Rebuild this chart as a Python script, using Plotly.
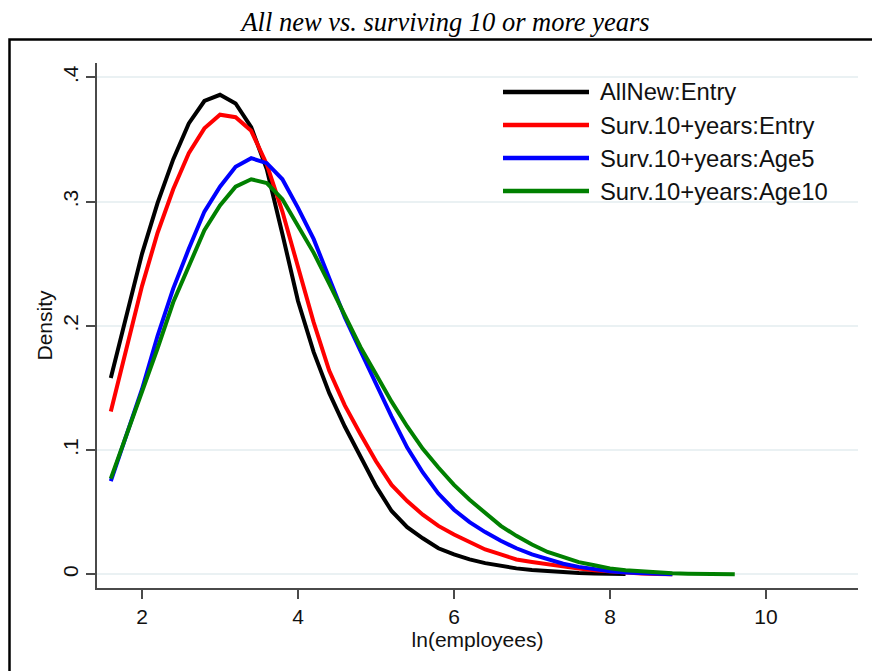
import plotly.graph_objects as go

# Kernel density estimates of ln(employees), evaluated on a common grid
x_grid = [1.6, 1.8, 2.0, 2.2, 2.4, 2.6, 2.8, 3.0, 3.2, 3.4, 3.6, 3.8, 4.0, 4.2,
          4.4, 4.6, 4.8, 5.0, 5.2, 5.4, 5.6, 5.8, 6.0, 6.2, 6.4, 6.6, 6.8, 7.0,
          7.2, 7.4, 7.6, 7.8, 8.0, 8.2, 8.4, 8.6, 8.8, 9.0, 9.2, 9.4, 9.6]

allnew_entry = [0.158, 0.209, 0.258, 0.299, 0.334, 0.363, 0.381, 0.386, 0.379,
                0.360, 0.326, 0.274, 0.220, 0.179, 0.146, 0.119, 0.095, 0.071,
                0.051, 0.038, 0.029, 0.021, 0.016, 0.012, 0.009, 0.0065,
                0.0048, 0.0035, 0.0025, 0.0017, 0.0011, 0.0007, 0.0004, 0.0002]

surv_entry = [0.131, 0.183, 0.232, 0.275, 0.310, 0.339, 0.359, 0.370, 0.368,
              0.357, 0.330, 0.292, 0.247, 0.203, 0.164, 0.136, 0.113, 0.091,
              0.072, 0.059, 0.048, 0.039, 0.032, 0.026, 0.020, 0.016, 0.012,
              0.010, 0.008, 0.0062, 0.0046, 0.0033, 0.0022, 0.0013, 0.0007,
              0.0003, 0.0001]

surv_age5 = [0.075, 0.112, 0.149, 0.192, 0.230, 0.262, 0.292, 0.312, 0.328,
             0.335, 0.331, 0.318, 0.295, 0.270, 0.239, 0.207, 0.180, 0.153,
             0.127, 0.102, 0.082, 0.065, 0.052, 0.042, 0.034, 0.027, 0.021,
             0.016, 0.012, 0.0085, 0.006, 0.004, 0.0025, 0.0014, 0.0007,
             0.0003, 0.0001]

surv_age10 = [0.077, 0.112, 0.145, 0.182, 0.219, 0.249, 0.277, 0.297, 0.312,
              0.318, 0.315, 0.302, 0.281, 0.259, 0.234, 0.208, 0.183, 0.161,
              0.139, 0.119, 0.101, 0.086, 0.072, 0.060, 0.049, 0.039, 0.031,
              0.024, 0.018, 0.0135, 0.0098, 0.0073, 0.0048, 0.0033, 0.0022,
              0.0014, 0.0008, 0.0005, 0.0003, 0.0001, 0.0]

series_names = ["AllNew:Entry", "Surv.10+years:Entry",
                "Surv.10+years:Age5", "Surv.10+years:Age10"]
series_values = [allnew_entry, surv_entry, surv_age5, surv_age10]
series_colors = ["#000000", "#ff0000", "#0000ff", "#008000"]

x_ticks = [2, 4, 6, 8, 10]
y_ticks = [0, 0.1, 0.2, 0.3, 0.4]
y_tick_labels = ["0", ".1", ".2", ".3", ".4"]

title_text = "All new vs. surviving 10 or more years"
x_title = "ln(employees)"
y_title = "Density"

# Figure geometry (pixels)
W, H = 872, 671
L, R, T, B = 97, 14, 63, 83
plot_w = W - L - R
plot_h = H - T - B


def px_x(px):
    return (px - L) / plot_w


def px_y(py):
    return (H - B - py) / plot_h


SANS = "Liberation Sans, Arial, sans-serif"
SERIF = "Liberation Serif, Times New Roman, serif"

fig = go.Figure()
for name, vals, color in zip(series_names, series_values, series_colors):
    fig.add_trace(go.Scatter(
        x=x_grid[:len(vals)], y=vals, mode="lines", name=name,
        line=dict(color=color, width=4), showlegend=False,
    ))

# Legend drawn as line samples with labels in the top-right corner
row_y = [92, 125, 158, 191]
for name, color, ry in zip(series_names, series_colors, row_y):
    fig.add_shape(type="line", xref="paper", yref="paper",
                  x0=px_x(503), x1=px_x(589), y0=px_y(ry), y1=px_y(ry),
                  line=dict(color=color, width=4.5))
    fig.add_annotation(xref="paper", yref="paper", x=px_x(598), y=px_y(ry),
                       text=name, showarrow=False, xanchor="left",
                       yanchor="middle",
                       font=dict(family=SANS, size=23.8, color="#111111"))

# Outer frame around the graph region
fig.add_shape(type="rect", xref="paper", yref="paper",
              x0=px_x(9.5), x1=px_x(W + 20), y0=px_y(H + 20), y1=px_y(39.5),
              line=dict(color="#000000", width=2.5), layer="above")

fig.update_layout(
    width=W, height=H,
    margin=dict(l=L, r=R, t=T, b=B),
    paper_bgcolor="#ffffff", plot_bgcolor="#ffffff",
    title=dict(text="<i>" + title_text + "</i>", x=445.5 / W, xanchor="center",
               xref="container", yref="container", y=1 - 22 / H,
               yanchor="middle",
               font=dict(family=SERIF, size=26.5, color="#000000")),
    showlegend=False,
)

fig.update_xaxes(
    range=[1.423, 11.18], tickvals=x_ticks, ticktext=[str(v) for v in x_ticks],
    showgrid=False, zeroline=False, showline=True, linecolor="#4a4a4a",
    linewidth=1.5, ticks="outside", ticklen=9, tickwidth=1.5,
    tickcolor="#4a4a4a", tickfont=dict(family=SANS, size=21, color="#111111"),
    title=dict(text=x_title, font=dict(family=SANS, size=21, color="#111111"),
               standoff=2),
)
fig.update_yaxes(
    range=[-0.011, 0.4116], tickvals=y_ticks, ticktext=y_tick_labels,
    tickangle=-90, showgrid=True, gridcolor="#eaf1f3", gridwidth=2,
    zeroline=False, showline=True, linecolor="#4a4a4a", linewidth=1.5,
    ticks="outside", ticklen=9, tickwidth=1.5, tickcolor="#4a4a4a",
    tickfont=dict(family=SANS, size=21, color="#111111"),
    title=dict(text=y_title, font=dict(family=SANS, size=21, color="#111111"),
               standoff=0),
)

fig.write_html("out.html")
